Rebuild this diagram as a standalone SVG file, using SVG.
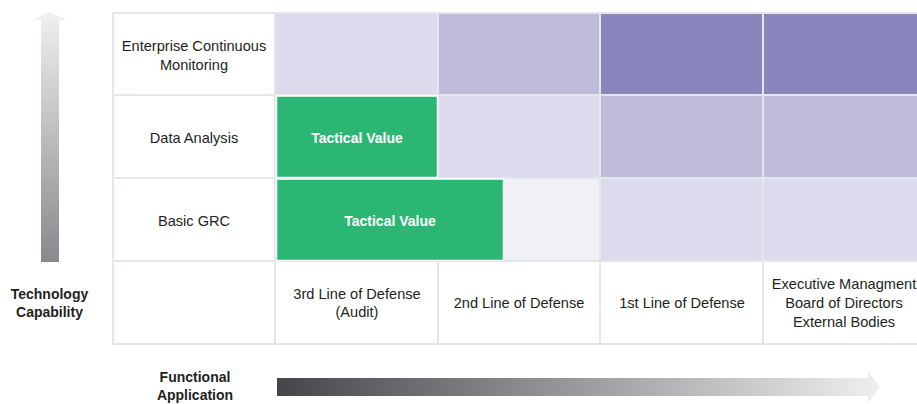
<svg xmlns="http://www.w3.org/2000/svg" width="917" height="404" viewBox="0 0 917 404">
<defs>
<linearGradient id="gv" x1="0" y1="0" x2="0" y2="1">
<stop offset="0" stop-color="#eff0f2"/>
<stop offset="1" stop-color="#88898c"/>
</linearGradient>
<linearGradient id="gh" x1="0" y1="0" x2="1" y2="0">
<stop offset="0" stop-color="#46464a"/>
<stop offset="1" stop-color="#eeeff1"/>
</linearGradient>
<style>
.c{stroke:#e3e7ec;stroke-width:2}
.w{fill:#ffffff}
.l1{fill:#dcdaec}
.l0{fill:#f1f0f7}
.l2{fill:#bebad9}
.l3{fill:#8a86bd}
.g{fill:#2bb673;stroke:#ffffff;stroke-width:1.5}
text{font-family:"Liberation Sans",Arial,sans-serif;font-size:14.6px;fill:#231f20;text-anchor:middle}
.b{font-weight:bold;font-size:14px}
.tw{fill:#ffffff}
</style>
</defs>
<rect width="917" height="404" fill="#ffffff"/>
<g id="axis-vertical">
<polygon points="49.5,12 66,20 59,20 59,262 41,262 41,20 33,20" fill="url(#gv)"/>
<text class="b" x="49.5" y="299">Technology</text>
<text class="b" x="49.5" y="317">Capability</text>
</g>
<g id="axis-horizontal">
<polygon points="277,378 868,378 868,371 880,387 868,403 868,396 277,396" fill="url(#gh)"/>
<text class="b" x="195" y="382">Functional</text>
<text class="b" x="195" y="400">Application</text>
</g>
<g id="grid">
<rect class="c w" x="113" y="13" width="162" height="82"/>
<rect class="c l1" x="275" y="13" width="163" height="82"/>
<rect class="c l2" x="438" y="13" width="162" height="82"/>
<rect class="c l3" x="600" y="13" width="163" height="82"/>
<rect class="c l3" x="763" y="13" width="160" height="82"/>
<rect class="c w" x="113" y="95" width="162" height="83"/>
<rect class="c l1" x="438" y="95" width="162" height="83"/>
<rect class="c l2" x="600" y="95" width="163" height="83"/>
<rect class="c l2" x="763" y="95" width="160" height="83"/>
<rect class="c w" x="113" y="178" width="162" height="83"/>
<rect class="c l0" x="438" y="178" width="162" height="83"/>
<rect class="c l1" x="600" y="178" width="163" height="83"/>
<rect class="c l1" x="763" y="178" width="160" height="83"/>
<rect class="c w" x="113" y="261" width="162" height="83"/>
<rect class="c w" x="275" y="261" width="163" height="83"/>
<rect class="c w" x="438" y="261" width="162" height="83"/>
<rect class="c w" x="600" y="261" width="163" height="83"/>
<rect class="c w" x="763" y="261" width="160" height="83"/>
</g>
<g id="row-labels">
<text x="194" y="51">Enterprise Continuous</text>
<text x="194" y="70">Monitoring</text>
<text x="194" y="143">Data Analysis</text>
<text x="194" y="226">Basic GRC</text>
</g>
<g id="tactical-1">
<rect class="g" x="276.5" y="96" width="161" height="81.5"/>
<text class="b tw" x="357" y="143">Tactical Value</text>
</g>
<g id="tactical-2">
<rect class="g" x="276.5" y="179" width="227" height="81.5"/>
<text class="b tw" x="390" y="226">Tactical Value</text>
</g>
<g id="col-labels">
<text x="357" y="299">3rd Line of Defense</text>
<text x="357" y="317">(Audit)</text>
<text x="519" y="308">2nd Line of Defense</text>
<text x="682" y="308">1st Line of Defense</text>
<text x="844" y="289">Executive Managment</text>
<text x="844" y="308">Board of Directors</text>
<text x="844" y="327">External Bodies</text>
</g>
</svg>
